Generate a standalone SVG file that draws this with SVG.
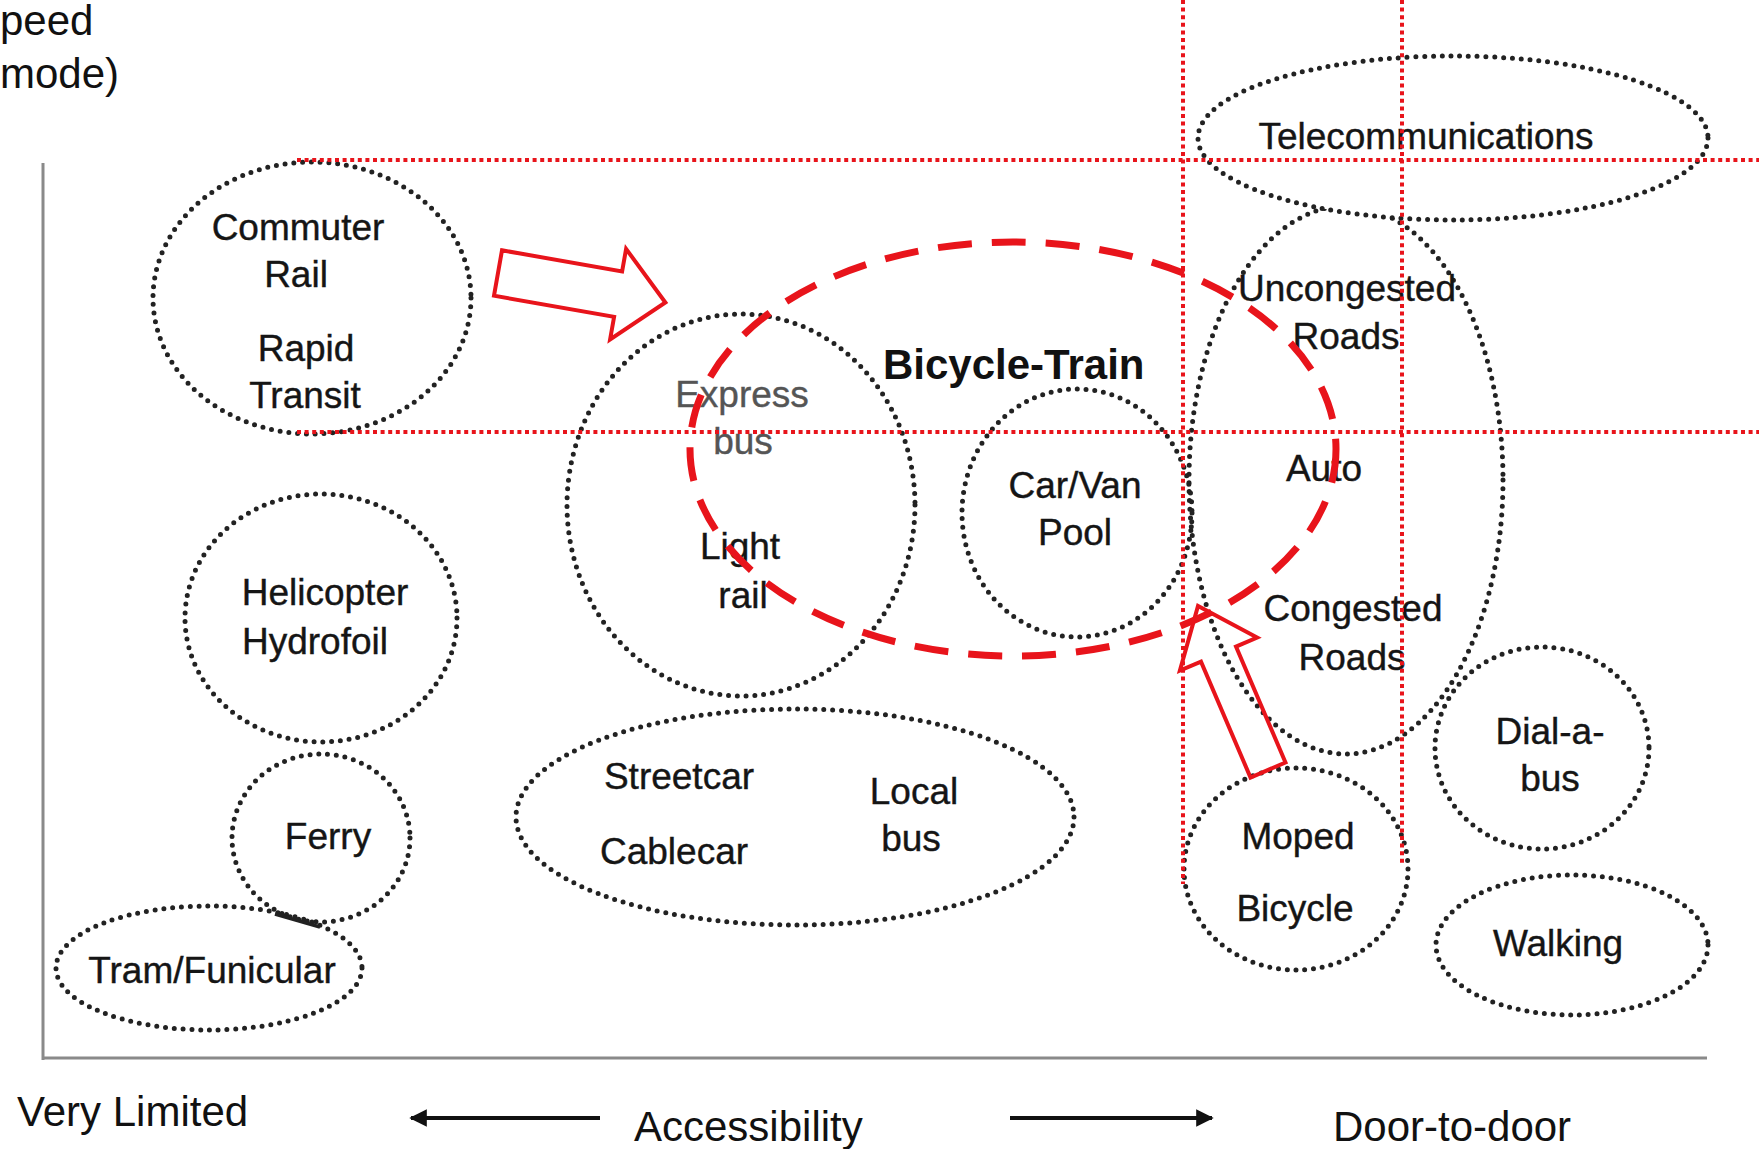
<svg xmlns="http://www.w3.org/2000/svg" width="1759" height="1149" viewBox="0 0 1759 1149">
<defs>
<style>
.dot{fill:none;stroke:#222;stroke-width:5;stroke-dasharray:0 8.8;stroke-linecap:round}
.rdot{fill:none;stroke:#e8141b;stroke-width:4;stroke-dasharray:4 3.6}
.rdash{fill:none;stroke:#e8141b;stroke-width:7;stroke-dasharray:34 20}
.harrow{fill:none;stroke:#e8141b;stroke-width:4;stroke-linejoin:miter}
.axis{stroke:#8a8a8a;stroke-width:3;fill:none}
.lbl{font-family:"Liberation Sans",Arial,sans-serif;font-size:37px;fill:#151515;text-anchor:middle;stroke:#151515;stroke-width:0.4}
.gray{fill:#555;stroke:#555}
.big{font-family:"Liberation Sans",Arial,sans-serif;font-size:42px;fill:#111}
.bold{font-weight:bold;font-size:42px;fill:#111}
</style>
<marker id="ah" viewBox="0 0 10 10" refX="9" refY="5" markerWidth="5" markerHeight="4.4" orient="auto-start-reverse" markerUnits="strokeWidth">
<path d="M0,0 L10,5 L0,10 z" fill="#111"/>
</marker>
</defs>
<rect width="1759" height="1149" fill="#fff"/>

<g id="axes">
<line class="axis" x1="43" y1="163" x2="43" y2="1060"/>
<line class="axis" x1="42" y1="1058" x2="1707" y2="1058"/>
</g>

<g id="axis-labels">
<text class="big" x="0" y="35" font-size="40">peed</text>
<text class="big" x="0" y="88" font-size="40">mode)</text>
<text class="big" x="17" y="1126">Very Limited</text>
<text class="big" x="634" y="1141">Accessibility</text>
<text class="big" x="1333" y="1141">Door-to-door</text>
</g>

<g id="roads">
<ellipse class="dot" cx="1346" cy="480" rx="157" ry="274"/>
<text class="lbl" x="1347" y="301">Uncongested</text>
<text class="lbl" x="1346" y="349">Roads</text>
<text class="lbl" x="1324" y="481">Auto</text>
<text class="lbl" x="1353" y="621">Congested</text>
<text class="lbl" x="1352" y="670">Roads</text>
</g>

<g id="telecommunications">
<ellipse class="dot" cx="1453" cy="138" rx="255" ry="82" style="fill:#fff"/>
<text class="lbl" x="1426" y="149">Telecommunications</text>
</g>

<g id="commuter-rail">
<ellipse class="dot" cx="312" cy="298" rx="159" ry="136"/>
<text class="lbl" x="298" y="240">Commuter</text>
<text class="lbl" x="296" y="287">Rail</text>
<text class="lbl" x="306" y="361">Rapid</text>
<text class="lbl" x="305" y="408">Transit</text>
</g>

<g id="express-light-rail">
<ellipse class="dot" cx="741" cy="505" rx="174" ry="191"/>
<text class="lbl gray" x="742" y="407">Express</text>
<text class="lbl gray" x="743" y="454">bus</text>
<text class="lbl" x="740" y="559">Light</text>
<text class="lbl" x="743" y="608">rail</text>
</g>

<g id="car-van-pool">
<ellipse class="dot" cx="1077" cy="513" rx="115" ry="124"/>
<text class="lbl" x="1075" y="498">Car/Van</text>
<text class="lbl" x="1075" y="545">Pool</text>
</g>

<g id="helicopter">
<ellipse class="dot" cx="321" cy="618" rx="136" ry="124"/>
<text class="lbl" x="325" y="605">Helicopter</text>
<text class="lbl" x="315" y="654">Hydrofoil</text>
</g>

<g id="ferry">
<ellipse class="dot" cx="321" cy="838" rx="89" ry="84"/>
<text class="lbl" x="328" y="849">Ferry</text>
</g>

<g id="tram-funicular">
<ellipse class="dot" cx="209" cy="968" rx="153" ry="62"/>
<text class="lbl" x="212" y="983">Tram/Funicular</text>
</g>

<g id="streetcar-local-bus">
<ellipse class="dot" cx="795" cy="817" rx="279" ry="108"/>
<text class="lbl" x="679" y="789">Streetcar</text>
<text class="lbl" x="674" y="864">Cablecar</text>
<text class="lbl" x="914" y="804">Local</text>
<text class="lbl" x="911" y="851">bus</text>
</g>

<g id="moped-bicycle">
<ellipse class="dot" cx="1296" cy="869" rx="112" ry="101"/>
<text class="lbl" x="1298" y="849">Moped</text>
<text class="lbl" x="1295" y="921">Bicycle</text>
</g>

<g id="dial-a-bus">
<ellipse class="dot" cx="1542" cy="748" rx="107" ry="101"/>
<text class="lbl" x="1550" y="744">Dial-a-</text>
<text class="lbl" x="1550" y="791">bus</text>
</g>

<g id="walking">
<ellipse class="dot" cx="1572" cy="945" rx="136" ry="70"/>
<text class="lbl" x="1558" y="956">Walking</text>
</g>

<g id="connectors">
<line x1="275" y1="914" x2="320" y2="927" stroke="#222" stroke-width="3.5"/>
<line class="rdot" x1="297" y1="160" x2="1759" y2="160"/>
<line class="rdot" x1="297" y1="432" x2="1759" y2="432"/>
<line class="rdot" x1="1183" y1="0" x2="1183" y2="884"/>
<line class="rdot" x1="1402" y1="0" x2="1402" y2="866"/>
<polygon class="harrow" points="502,250.3 622.1,271.5 626.1,248.9 665.4,302.5 610.1,339.5 614.1,316.8 494,295.7"/>
<polygon class="harrow" points="1285.5,762.5 1236,646.6 1257.1,637.6 1198,606 1179.9,670.6 1201,661.6 1250.5,777.5"/>
<line x1="600" y1="1118" x2="411" y2="1118" stroke="#111" stroke-width="4" marker-end="url(#ah)"/>
<line x1="1010" y1="1118" x2="1212" y2="1118" stroke="#111" stroke-width="4" marker-end="url(#ah)"/>
</g>

<g id="bicycle-train">
<ellipse class="rdash" cx="1013" cy="449" rx="323" ry="207"/>
<text class="big bold" x="883" y="379">Bicycle-Train</text>
</g>
</svg>
